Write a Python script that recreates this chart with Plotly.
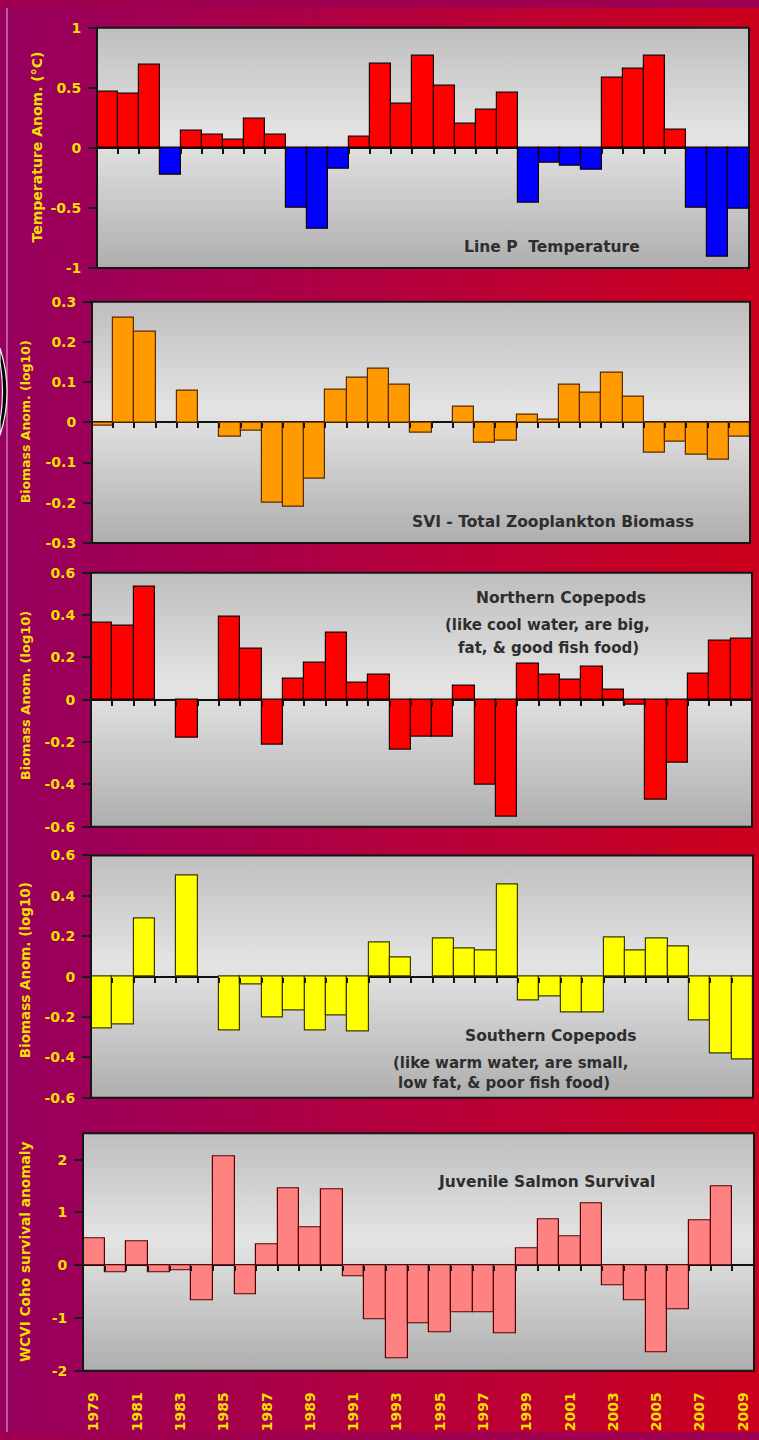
import base64
import plotly.graph_objects as go

# ---- data -------------------------------------------------------------
years = list(range(1979, 2010))

# Line P temperature anomaly (deg C)
temperature = [0.47, 0.45, 0.69, -0.22, 0.14, 0.11, 0.07, 0.24, 0.11, -0.50,
               -0.67, -0.17, 0.09, 0.70, 0.37, 0.77, 0.52, 0.20, 0.32, 0.46,
               -0.46, -0.12, -0.15, -0.18, 0.58, 0.66, 0.77, 0.155, -0.50, -0.91,
               -0.51]

# SVI total zooplankton biomass anomaly (log10)
zooplankton = [-0.008, 0.26, 0.225, None, 0.078, None, -0.035, -0.02, -0.20, -0.21,
               -0.14, 0.082, 0.112, 0.134, 0.093, -0.025, None, 0.039, -0.05, -0.045,
               0.02, 0.007, 0.094, 0.074, 0.123, 0.064, -0.075, -0.049, -0.08, -0.093,
               -0.035]

# Northern copepod biomass anomaly (log10)
northern = [0.365, 0.35, 0.535, None, -0.18, None, 0.392, 0.243, -0.21, 0.10,
            0.177, 0.315, 0.08, 0.12, -0.238, -0.175, -0.172, 0.066, -0.40, -0.55,
            0.17, 0.12, 0.097, 0.157, 0.046, -0.022, -0.47, -0.295, 0.123, 0.277,
            0.29]

# Southern copepod biomass anomaly (log10)
southern = [-0.255, -0.237, 0.29, None, 0.50, None, -0.266, -0.04, -0.20, -0.17,
            -0.266, -0.19, -0.274, 0.168, 0.096, None, 0.19, 0.137, 0.13, 0.457,
            -0.12, -0.10, -0.177, -0.177, 0.194, 0.13, 0.187, 0.15, -0.216, -0.382,
            -0.41]

# WCVI coho survival anomaly
coho = [0.50, -0.13, 0.46, -0.14, -0.09, -0.66, 2.07, -0.56, 0.39, 1.46,
        0.727, 1.43, -0.22, -1.02, -1.77, -1.10, -1.27, -0.89, -0.90, -1.29,
        0.32, 0.87, 0.54, 1.18, -0.385, -0.665, -1.65, -0.84, 0.85, 1.50,
        None]

temp_tickvals = [-1, -0.5, 0, 0.5, 1]
temp_ticktext = ["-1", "-0.5", "0", "0.5", "1"]
zoo_tickvals = [-0.3, -0.2, -0.1, 0, 0.1, 0.2, 0.3]
zoo_ticktext = ["-0.3", "-0.2", "-0.1", "0", "0.1", "0.2", "0.3"]
cope_tickvals = [-0.6, -0.4, -0.2, 0, 0.2, 0.4, 0.6]
cope_ticktext = ["-0.6", "-0.4", "-0.2", "0", "0.2", "0.4", "0.6"]
coho_tickvals = [-2, -1, 0, 1, 2]
coho_ticktext = ["-2", "-1", "0", "1", "2"]
year_tickvals = [y for y in years if y % 2 == 1]
year_ticktext = [str(y) for y in year_tickvals]

# ---- page geometry ----------------------------------------------------
W, H = 759, 1440


def fx(px):
    return px / W


def fy(py):
    return 1 - py / H


LABEL = "#F6DE00"
TEXT = "#2E2E2E"
BOLD = "DejaVu Sans"

panels = [
    dict(vals=temperature,
         color=["#FF0000" if (v or 0) >= 0 else "#0000FF" for v in temperature],
         line="#1A0000", box=(97, 749, 20, 263), rng=(-1, 1),
         tv=temp_tickvals, tt=temp_ticktext),
    dict(vals=zooplankton, color="#FF9A00", line="#5A2A00",
         box=(92, 750, 297, 541), rng=(-0.3, 0.3),
         tv=zoo_tickvals, tt=zoo_ticktext),
    dict(vals=northern, color="#FF0000", line="#1A0000",
         box=(91, 752, 571, 828), rng=(-0.6, 0.6),
         tv=cope_tickvals, tt=cope_ticktext),
    dict(vals=southern, color="#FFFF00", line="#3A3A00",
         box=(91, 753, 857, 1102), rng=(-0.6, 0.6),
         tv=cope_tickvals, tt=cope_ticktext),
    dict(vals=coho, color="#FF8282", line="#5A0000",
         box=(83, 754, 1138, 1378), rng=(-2, 2.5),
         tv=coho_tickvals, tt=coho_ticktext),
]


def svg_uri(svg):
    return "data:image/svg+xml;base64," + base64.b64encode(svg.encode()).decode()


page_bg = svg_uri(
    '<svg xmlns="http://www.w3.org/2000/svg" width="759" height="1440" '
    'viewBox="0 0 759 1440" preserveAspectRatio="none">'
    '<defs><linearGradient id="g" x1="0" y1="0" x2="1" y2="0">'
    '<stop offset="0" stop-color="#96005F"/>'
    '<stop offset="0.5" stop-color="#B2003F"/>'
    '<stop offset="1" stop-color="#CC001C"/>'
    '</linearGradient></defs>'
    '<rect width="759" height="1440" fill="url(#g)"/></svg>')

plot_bg = svg_uri(
    '<svg xmlns="http://www.w3.org/2000/svg" width="100" height="100" '
    'viewBox="0 0 100 100" preserveAspectRatio="none">'
    '<defs><linearGradient id="p" x1="0" y1="0" x2="0" y2="1">'
    '<stop offset="0" stop-color="#BEBEBE"/>'
    '<stop offset="0.45" stop-color="#E4E4E4"/>'
    '<stop offset="1" stop-color="#AEAEAE"/>'
    '</linearGradient></defs>'
    '<rect width="100" height="100" fill="url(#p)"/></svg>')

fig = go.Figure()
layout = dict(
    width=W, height=H,
    margin=dict(l=0, r=0, t=0, b=0),
    paper_bgcolor="#A00050",
    plot_bgcolor="rgba(0,0,0,0)",
    showlegend=False,
    bargap=0,
    font=dict(family=BOLD, color=LABEL),
    images=[dict(source=page_bg, xref="paper", yref="paper", x=0, y=1,
                 sizex=1, sizey=1, sizing="stretch", layer="below")],
    shapes=[],
    annotations=[],
)

n = len(panels)
for i, p in enumerate(panels):
    k = i + 1
    sfx = "" if k == 1 else str(k)
    x0, x1, top, bot = p["box"]
    xd = [fx(x0), fx(x1)]
    yd = [fy(bot), fy(top)]
    lo, hi = p["rng"]

    fig.add_trace(go.Bar(
        x=years, y=p["vals"], width=1,
        marker=dict(color=p["color"], line=dict(color=p["line"], width=1.2)),
        xaxis="x" + sfx, yaxis="y" + sfx, hoverinfo="x+y"))

    last = k == n
    layout["xaxis" + sfx] = dict(
        domain=xd, anchor="y" + sfx, range=[1978.5, 2009.5],
        showgrid=False, zeroline=False, showline=False,
        tickmode="array",
        tickvals=year_tickvals if last else [],
        ticktext=year_ticktext if last else [],
        showticklabels=last, tickangle=-90,
        ticks="outside" if last else "", ticklen=15,
        tickcolor="rgba(0,0,0,0)",
        tickfont=dict(family=BOLD, size=14, color=LABEL, weight="bold"),
        fixedrange=True)
    layout["yaxis" + sfx] = dict(
        domain=yd, anchor="x" + sfx, range=[lo, hi],
        showgrid=False, showline=False,
        zeroline=True, zerolinecolor="#111111", zerolinewidth=2,
        tickmode="array", tickvals=p["tv"], ticktext=p["tt"],
        ticks="outside", ticklen=8, tickcolor="#1A1A1A", tickwidth=1.5,
        ticklabelstandoff=4,
        tickfont=dict(family=BOLD, size=14, color=LABEL, weight="bold"),
        fixedrange=True)

    # category-boundary ticks hanging from the zero line
    zk = 5 + k
    zpos = yd[0] + (0 - lo) / (hi - lo) * (yd[1] - yd[0])
    layout["xaxis%d" % zk] = dict(
        overlaying="x" + sfx, anchor="free", position=zpos,
        range=[1978.5, 2009.5], showgrid=False, zeroline=False,
        showline=False, tickmode="array",
        tickvals=[y + 0.5 for y in years[:-1]],
        ticks="outside", ticklen=5, tickwidth=2, tickcolor="#111111",
        showticklabels=False, fixedrange=True)
    fig.add_trace(go.Scatter(x=[None], y=[None], xaxis="x%d" % zk,
                             yaxis="y" + sfx, hoverinfo="skip"))

    # plot-area gradient and frame
    layout["images"].append(dict(
        source=plot_bg, xref="paper", yref="paper", x=xd[0], y=yd[1],
        sizex=xd[1] - xd[0], sizey=yd[1] - yd[0], sizing="stretch",
        layer="below"))
    layout["shapes"].append(dict(
        type="rect", xref="paper", yref="paper",
        x0=xd[0], x1=xd[1], y0=yd[0], y1=yd[1],
        line=dict(color="#151515", width=2), layer="above"))

# thin highlight rule near the left edge of the page
layout["shapes"].append(dict(type="line", xref="paper", yref="paper",
                             x0=fx(7), x1=fx(7), y0=0, y1=1,
                             line=dict(color="#C874AE", width=1.5)))

# dark crescent ornament clipped by the left page edge
crescent = "M %f %f Q %f %f %f %f L %f %f Q %f %f %f %f Z" % (
    fx(0), fy(344), fx(14), fy(388), fx(0), fy(432),
    fx(0), fy(418), fx(5), fy(388), fx(0), fy(358))
layout["shapes"].append(dict(type="path", xref="paper", yref="paper",
                             path=crescent, fillcolor="#050505",
                             line=dict(color="#F4F4F4", width=1.2)))

# axis titles
y_titles = [
    ("Temperature Anom. (\u00b0C)", 37, 141, 14),
    ("Biomass Anom. (log10)", 25, 419, 12.5),
    ("Biomass Anom. (log10)", 25, 695, 13),
    ("Biomass Anom. (log10)", 25, 973, 13.5),
    ("WCVI Coho survival anomaly", 25, 1258, 13.7),
]
for txt, x, y, s in y_titles:
    layout["annotations"].append(dict(
        text=txt, x=fx(x), y=fy(y), xref="paper", yref="paper",
        textangle=-90, showarrow=False, xanchor="center", yanchor="middle",
        font=dict(family=BOLD, size=s, color=LABEL, weight="bold")))

# panel captions
captions = [
    ("Line P\u00a0\u00a0Temperature", 552, 242, 15.5, "center"),
    ("SVI - Total Zooplankton Biomass", 553, 520, 15.5, "center"),
    ("Northern Copepods", 561, 597, 15.5, "center"),
    ("(like cool water, are big,", 547, 624, 15, "center"),
    ("fat, & good fish food)", 548, 647, 15, "center"),
    ("Southern Copepods", 551, 1040, 15.5, "center"),
    ("(like warm water, are small,", 391, 1067, 15, "left"),
    ("low fat, & poor fish food)", 396, 1087, 15, "left"),
    ("Juvenile Salmon Survival", 546, 1187, 15.5, "center"),
]
for txt, x, y, s, anchor in captions:
    layout["annotations"].append(dict(
        text=txt, x=fx(x), y=fy(y), xref="paper", yref="paper",
        showarrow=False, xanchor=anchor, yanchor="middle",
        font=dict(family=BOLD, size=s, color=TEXT, weight="bold")))

fig.update_layout(**layout)
fig.write_html("out.html")
